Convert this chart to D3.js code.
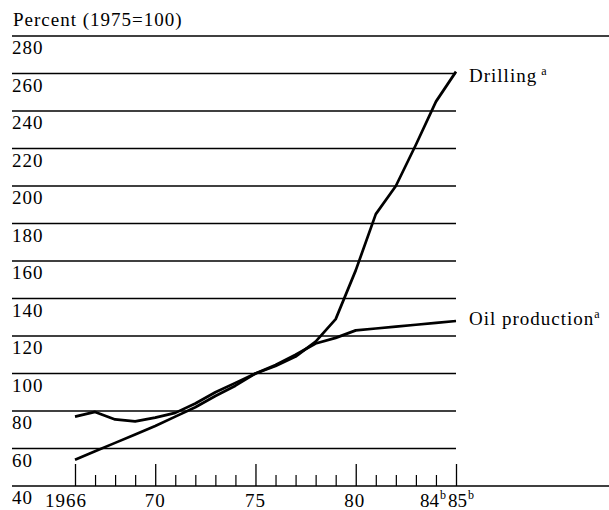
<!DOCTYPE html>
<html>
<head>
<meta charset="utf-8">
<script src="https://cdn.jsdelivr.net/npm/d3@7"></script>
<style>
  body { margin: 0; background: #fff; }
  svg { display: block; }
  text { font-family: "Liberation Serif", "Times New Roman", serif; fill: #000; letter-spacing: 1px; }
</style>
</head>
<body>
<svg id="chart" width="609" height="510"></svg>
<script>
// data (1975 = 100)
var years = [1966, 1967, 1968, 1969, 1970, 1971, 1972, 1973, 1974, 1975,
             1976, 1977, 1978, 1979, 1980, 1981, 1982, 1983, 1984, 1985];
var drilling = [77, 79.5, 75.5, 74.5, 76.5, 79, 84, 90, 95, 100,
                104, 109, 117, 129, 155, 185, 200, 222, 245, 261];
var oilProduction = [54, 58.5, 63, 67.5, 72, 77, 82, 88, 93.5, 100,
                     104.5, 110, 116, 119, 123, 124, 125, 126, 127, 128];
var yTicks = [40, 60, 80, 100, 120, 140, 160, 180, 200, 220, 240, 260, 280];
var majorYears = [1966, 1970, 1975, 1980, 1985];
var xLabels = ["1966", "70", "75", "80", "84", "85"];
var xLabelYears = [1966, 1970, 1975, 1980, 1984, 1985];
var xLabelSup = ["", "", "", "", "b", "b"];

var svg = d3.select("#chart");
var left = 12, right = 609;

var x = d3.scaleLinear().domain([1966, 1985]).range([75, 456]);
var y = d3.scaleLinear().domain([40, 280]).range([486, 36]);

// title
svg.append("text")
  .attr("x", 13).attr("y", 26)
  .style("font-size", "19px")
  .text("Percent (1975=100)");

// horizontal rules: top and bottom run to the page edge, the rest stop at 85
svg.append("g").selectAll("line")
  .data(yTicks)
  .join("line")
    .attr("x1", left)
    .attr("x2", function(d) { return (d == 40 || d == 280) ? right : x(1985); })
    .attr("y1", function(d) { return y(d); })
    .attr("y2", function(d) { return y(d); })
    .attr("stroke", "#000")
    .attr("stroke-width", 1.4);

svg.append("g").selectAll("text")
  .data(yTicks)
  .join("text")
    .attr("x", left)
    .attr("y", function(d) { return y(d) + 18; })
    .style("font-size", "19px")
    .text(function(d) { return d; });

// ticks pointing up from the base line
var minorYears = years.filter(function(d) { return majorYears.indexOf(d) < 0; });
svg.append("g")
  .attr("transform", "translate(0," + y(40) + ")")
  .call(d3.axisBottom(x).tickValues(majorYears).tickSize(-22).tickFormat(""))
  .call(function(g) { g.select(".domain").remove(); })
  .selectAll("line").attr("stroke", "#000").attr("stroke-width", 1.3);
svg.append("g")
  .attr("transform", "translate(0," + y(40) + ")")
  .call(d3.axisBottom(x).tickValues(minorYears).tickSize(-11).tickFormat(""))
  .call(function(g) { g.select(".domain").remove(); })
  .selectAll("line").attr("stroke", "#000").attr("stroke-width", 1.2);

// year labels (a few nudged as in the original)
var labelShift = [-9, 0, 0, -1, -16, -8];
var xl = svg.append("g").selectAll("text")
  .data(xLabels)
  .join("text")
    .attr("x", function(d, i) { return x(xLabelYears[i]) + labelShift[i]; })
    .attr("y", 507)
    .attr("text-anchor", function(d, i) { return xLabelSup[i] ? "start" : "middle"; })
    .style("font-size", "19px")
    .style("letter-spacing", function(d, i) { return xLabelSup[i] ? "0px" : null; })
    .text(function(d) { return d; });
xl.filter(function(d, i) { return xLabelSup[i]; })
  .append("tspan")
    .attr("dx", 1)
    .attr("dy", -8)
    .style("font-size", "12px")
    .text(function(d) { return xLabelSup[xLabels.indexOf(d)]; });

// series lines
var line = d3.line()
  .x(function(d, i) { return x(years[i]); })
  .y(function(d) { return y(d); });

[drilling, oilProduction].forEach(function(s) {
  svg.append("path")
    .datum(s)
    .attr("d", line)
    .attr("fill", "none")
    .attr("stroke", "#000")
    .attr("stroke-width", 2.7)
    .attr("stroke-linejoin", "round");
});

// series labels
function seriesLabel(name, value, dy, gap) {
  var t = svg.append("text")
    .attr("x", x(1985) + 13)
    .attr("y", y(value) + dy)
    .style("font-size", "19px")
    .text(name);
  t.append("tspan").attr("dx", gap).attr("dy", -7).style("font-size", "12px").text("a");
}
seriesLabel("Drilling", drilling[drilling.length - 1], 10, 4);
seriesLabel("Oil production", oilProduction[oilProduction.length - 1], 4, 0);
</script>
</body>
</html>
